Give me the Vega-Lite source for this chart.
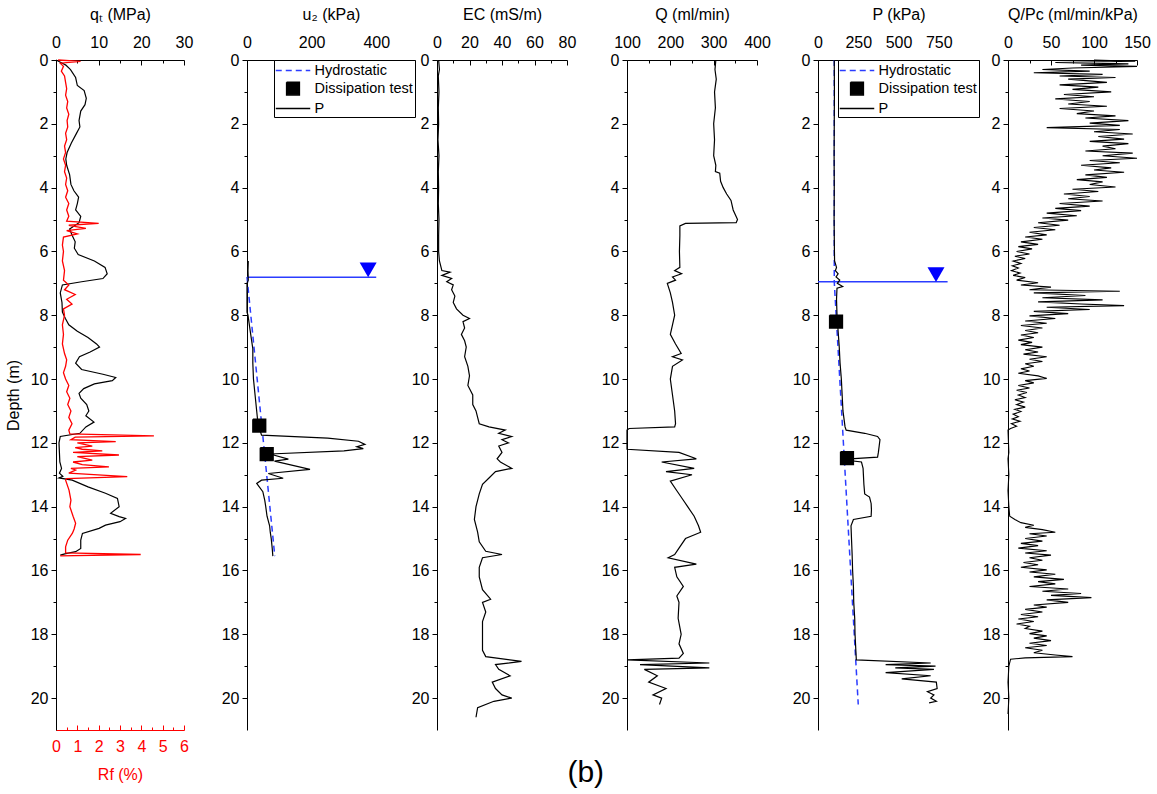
{
  "$schema": "https://vega.github.io/schema/vega-lite/v6.json",
  "padding": {"left": 5, "top": 6, "right": 5, "bottom": 5},
  "config": {
    "font": "Liberation Sans",
    "view": {"stroke": null},
    "axis": {"labelFontSize": 16, "titleFontSize": 16, "titleFontWeight": "normal", "labelColor": "black", "titleColor": "black", "domainColor": "black", "tickColor": "black", "grid": false, "labelOverlap": false, "labelFlush": false, "domainWidth": 1, "tickWidth": 1},
    "legend": {"title": null, "orient": "top-right", "offset": 0, "strokeColor": "black", "fillColor": "white", "padding": 2, "symbolSize": 225, "symbolOffset": 8.5, "labelOffset": 13, "labelFontSize": 14.5, "rowPadding": 2, "symbolStrokeWidth": 1.5, "labelColor": "black"}
  },
  "title": {"text": "(b)", "orient": "bottom", "anchor": "middle", "fontSize": 30, "fontWeight": "normal", "offset": -24, "dx": 8, "color": "black"},
  "datasets": {
    "qt": [{"depth":0,"value":0},{"depth":0.1,"value":1.5},{"depth":0.16,"value":2.3},{"depth":0.3,"value":3.4},{"depth":0.55,"value":4.6},{"depth":0.8,"value":5.0},{"depth":0.96,"value":6.6},{"depth":1.2,"value":7.1},{"depth":1.4,"value":6.8},{"depth":1.6,"value":5.8},{"depth":1.9,"value":5.4},{"depth":2.1,"value":5.6},{"depth":2.3,"value":4.8},{"depth":2.6,"value":3.6},{"depth":2.9,"value":2.6},{"depth":3.1,"value":2.3},{"depth":3.3,"value":2.5},{"depth":3.6,"value":3.2},{"depth":3.9,"value":3.5},{"depth":4.1,"value":4.2},{"depth":4.3,"value":5.3},{"depth":4.5,"value":5.0},{"depth":4.7,"value":4.6},{"depth":4.9,"value":5.8},{"depth":5.1,"value":5.4},{"depth":5.3,"value":3.2},{"depth":5.5,"value":3.8},{"depth":5.7,"value":4.5},{"depth":5.9,"value":4.3},{"depth":6.1,"value":5.2},{"depth":6.3,"value":9.0},{"depth":6.5,"value":11.5},{"depth":6.7,"value":12.0},{"depth":6.85,"value":11.0},{"depth":6.95,"value":6.0},{"depth":7.05,"value":1.5},{"depth":7.3,"value":1.0},{"depth":7.6,"value":1.4},{"depth":7.9,"value":1.5},{"depth":8.1,"value":2.2},{"depth":8.3,"value":3.0},{"depth":8.5,"value":5.0},{"depth":8.7,"value":7.5},{"depth":8.9,"value":9.5},{"depth":9.0,"value":10.2},{"depth":9.15,"value":8.0},{"depth":9.3,"value":5.5},{"depth":9.5,"value":4.6},{"depth":9.7,"value":6.0},{"depth":9.85,"value":11.0},{"depth":9.95,"value":14.0},{"depth":10.05,"value":13.2},{"depth":10.15,"value":9.0},{"depth":10.3,"value":6.5},{"depth":10.45,"value":5.4},{"depth":10.6,"value":5.8},{"depth":10.8,"value":7.2},{"depth":11.0,"value":7.7},{"depth":11.15,"value":7.0},{"depth":11.35,"value":8.9},{"depth":11.5,"value":7.0},{"depth":11.7,"value":5.6},{"depth":11.8,"value":1.0},{"depth":12.0,"value":0.7},{"depth":12.3,"value":0.8},{"depth":12.6,"value":0.9},{"depth":12.8,"value":1.3},{"depth":12.95,"value":0.8},{"depth":13.05,"value":1.6},{"depth":13.1,"value":0.7},{"depth":13.17,"value":3.8},{"depth":13.38,"value":7.5},{"depth":13.58,"value":11.6},{"depth":13.74,"value":14.4},{"depth":14.0,"value":14.8},{"depth":14.21,"value":12.8},{"depth":14.31,"value":14.8},{"depth":14.37,"value":16.3},{"depth":14.47,"value":15.0},{"depth":14.58,"value":11.6},{"depth":14.68,"value":10.1},{"depth":14.84,"value":6.2},{"depth":15.05,"value":5.8},{"depth":15.31,"value":5.8},{"depth":15.41,"value":4.6},{"depth":15.47,"value":2.3},{"depth":15.52,"value":1.0}],
    "rf": [{"depth":0,"value":0.1},{"depth":0.04,"value":1.15},{"depth":0.1,"value":0.2},{"depth":0.2,"value":0.35},{"depth":0.35,"value":0.25},{"depth":0.5,"value":0.4},{"depth":0.7,"value":0.45},{"depth":0.9,"value":0.5},{"depth":1.1,"value":0.45},{"depth":1.3,"value":0.55},{"depth":1.5,"value":0.5},{"depth":1.7,"value":0.6},{"depth":1.9,"value":0.52},{"depth":2.1,"value":0.55},{"depth":2.3,"value":0.45},{"depth":2.5,"value":0.5},{"depth":2.7,"value":0.4},{"depth":2.9,"value":0.45},{"depth":3.1,"value":0.35},{"depth":3.3,"value":0.45},{"depth":3.5,"value":0.4},{"depth":3.7,"value":0.5},{"depth":3.9,"value":0.45},{"depth":4.1,"value":0.55},{"depth":4.3,"value":0.45},{"depth":4.5,"value":0.6},{"depth":4.7,"value":0.5},{"depth":4.9,"value":0.6},{"depth":5.05,"value":0.5},{"depth":5.12,"value":2.0},{"depth":5.18,"value":0.6},{"depth":5.28,"value":1.4},{"depth":5.35,"value":0.5},{"depth":5.45,"value":1.0},{"depth":5.55,"value":0.35},{"depth":5.8,"value":0.3},{"depth":6.0,"value":0.35},{"depth":6.3,"value":0.3},{"depth":6.6,"value":0.4},{"depth":6.9,"value":0.35},{"depth":7.05,"value":0.6},{"depth":7.2,"value":0.4},{"depth":7.35,"value":0.9},{"depth":7.5,"value":0.5},{"depth":7.65,"value":0.75},{"depth":7.8,"value":0.35},{"depth":8.0,"value":0.4},{"depth":8.3,"value":0.3},{"depth":8.6,"value":0.35},{"depth":8.9,"value":0.3},{"depth":9.2,"value":0.4},{"depth":9.4,"value":0.5},{"depth":9.6,"value":0.45},{"depth":9.8,"value":0.35},{"depth":10.0,"value":0.45},{"depth":10.2,"value":0.6},{"depth":10.4,"value":0.5},{"depth":10.6,"value":0.65},{"depth":10.8,"value":0.55},{"depth":11.0,"value":0.7},{"depth":11.2,"value":0.6},{"depth":11.4,"value":0.75},{"depth":11.6,"value":0.6},{"depth":11.72,"value":0.65},{"depth":11.78,"value":4.59},{"depth":11.82,"value":0.9},{"depth":11.9,"value":0.7},{"depth":11.96,"value":2.8},{"depth":12.0,"value":1.0},{"depth":12.1,"value":1.7},{"depth":12.15,"value":0.9},{"depth":12.2,"value":1.23},{"depth":12.25,"value":2.17},{"depth":12.3,"value":0.8},{"depth":12.38,"value":2.95},{"depth":12.43,"value":1.0},{"depth":12.54,"value":1.7},{"depth":12.6,"value":0.8},{"depth":12.68,"value":1.23},{"depth":12.75,"value":2.48},{"depth":12.8,"value":0.7},{"depth":12.85,"value":0.92},{"depth":12.95,"value":0.6},{"depth":13.06,"value":3.34},{"depth":13.12,"value":0.5},{"depth":13.17,"value":0.45},{"depth":13.48,"value":0.61},{"depth":13.8,"value":0.7},{"depth":14.0,"value":0.65},{"depth":14.3,"value":0.8},{"depth":14.52,"value":0.92},{"depth":14.7,"value":0.85},{"depth":14.83,"value":0.77},{"depth":15.05,"value":0.55},{"depth":15.26,"value":0.45},{"depth":15.45,"value":0.45},{"depth":15.5,"value":3.97},{"depth":15.54,"value":0.2}],
    "u2": [{"depth":6.3,"value":4},{"depth":6.6,"value":3},{"depth":6.9,"value":4},{"depth":7.0,"value":0},{"depth":7.9,"value":0},{"depth":8.0,"value":3},{"depth":8.5,"value":10},{"depth":9.05,"value":18},{"depth":9.5,"value":18},{"depth":10.0,"value":20},{"depth":10.5,"value":25},{"depth":11.0,"value":30},{"depth":11.4,"value":34},{"depth":11.76,"value":45},{"depth":11.85,"value":250},{"depth":11.95,"value":345},{"depth":12.05,"value":365},{"depth":12.12,"value":340},{"depth":12.18,"value":360},{"depth":12.25,"value":300},{"depth":12.35,"value":71},{"depth":12.51,"value":128},{"depth":12.57,"value":85},{"depth":12.83,"value":195},{"depth":12.96,"value":66},{"depth":13.11,"value":112},{"depth":13.17,"value":45},{"depth":13.27,"value":30},{"depth":13.53,"value":49},{"depth":13.8,"value":55},{"depth":14.0,"value":58},{"depth":14.3,"value":62},{"depth":14.6,"value":70},{"depth":14.8,"value":72},{"depth":15.0,"value":75},{"depth":15.3,"value":78},{"depth":15.55,"value":80}],
    "u2hyd": [{"depth":6.8,"value":0},{"depth":15.55,"value":86}],
    "u2wt": [{"depth":6.81,"value":0,"value2":400}],
    "u2tri": [{"depth":6.58,"value":375}],
    "u2diss": [{"depth":11.46,"value":38,"series":"Dissipation test"},{"depth":12.35,"value":61,"series":"Dissipation test"}],
    "ec": [{"depth":0,"value":1},{"depth":0.3,"value":1.5},{"depth":0.5,"value":0.8},{"depth":1,"value":1.2},{"depth":1.5,"value":0.8},{"depth":2,"value":1.0},{"depth":2.5,"value":0.6},{"depth":3,"value":1.2},{"depth":3.5,"value":0.8},{"depth":4,"value":1.0},{"depth":4.5,"value":0.8},{"depth":5,"value":1.2},{"depth":5.5,"value":1.0},{"depth":6,"value":1.0},{"depth":6.3,"value":1.5},{"depth":6.6,"value":3},{"depth":6.65,"value":8},{"depth":6.75,"value":3},{"depth":6.85,"value":9},{"depth":6.95,"value":6},{"depth":7.05,"value":10},{"depth":7.2,"value":9},{"depth":7.4,"value":11},{"depth":7.6,"value":10},{"depth":7.8,"value":12},{"depth":8.0,"value":16},{"depth":8.1,"value":20},{"depth":8.2,"value":16},{"depth":8.4,"value":17},{"depth":8.6,"value":15},{"depth":8.8,"value":17},{"depth":9.0,"value":18},{"depth":9.3,"value":17},{"depth":9.6,"value":19},{"depth":9.9,"value":20},{"depth":10.2,"value":19},{"depth":10.5,"value":22},{"depth":10.8,"value":22},{"depth":11.0,"value":24},{"depth":11.2,"value":25},{"depth":11.4,"value":26},{"depth":11.5,"value":32},{"depth":11.6,"value":42},{"depth":11.7,"value":38},{"depth":11.8,"value":46},{"depth":11.9,"value":40},{"depth":12.0,"value":44},{"depth":12.1,"value":38},{"depth":12.3,"value":40},{"depth":12.5,"value":37},{"depth":12.6,"value":39},{"depth":12.8,"value":46},{"depth":12.9,"value":36},{"depth":13.1,"value":32},{"depth":13.3,"value":28},{"depth":13.6,"value":26},{"depth":14.0,"value":24},{"depth":14.4,"value":23},{"depth":14.8,"value":25},{"depth":15.1,"value":26},{"depth":15.4,"value":30},{"depth":15.5,"value":40},{"depth":15.6,"value":28},{"depth":15.9,"value":26},{"depth":16.2,"value":26},{"depth":16.6,"value":28},{"depth":16.9,"value":33},{"depth":17.0,"value":28},{"depth":17.3,"value":30},{"depth":17.6,"value":28},{"depth":18.0,"value":28},{"depth":18.5,"value":28},{"depth":18.7,"value":30},{"depth":18.85,"value":52},{"depth":18.95,"value":36},{"depth":19.1,"value":38},{"depth":19.3,"value":45},{"depth":19.5,"value":34},{"depth":19.7,"value":36},{"depth":19.9,"value":40},{"depth":20.0,"value":46},{"depth":20.1,"value":35},{"depth":20.3,"value":25},{"depth":20.6,"value":24}],
    "q": [{"depth":0,"value":305},{"depth":0.3,"value":303},{"depth":0.6,"value":306},{"depth":1,"value":302},{"depth":1.5,"value":304},{"depth":2,"value":300},{"depth":2.5,"value":302},{"depth":3,"value":300},{"depth":3.3,"value":305},{"depth":3.5,"value":304},{"depth":3.55,"value":314},{"depth":3.8,"value":316},{"depth":4.0,"value":322},{"depth":4.2,"value":330},{"depth":4.4,"value":340},{"depth":4.7,"value":345},{"depth":5.0,"value":355},{"depth":5.1,"value":352},{"depth":5.12,"value":235},{"depth":5.2,"value":222},{"depth":5.5,"value":222},{"depth":6.0,"value":221},{"depth":6.5,"value":222},{"depth":6.6,"value":210},{"depth":6.7,"value":226},{"depth":6.8,"value":205},{"depth":6.9,"value":212},{"depth":7.0,"value":193},{"depth":7.3,"value":200},{"depth":7.6,"value":205},{"depth":8.0,"value":210},{"depth":8.3,"value":205},{"depth":8.6,"value":200},{"depth":8.9,"value":212},{"depth":9.2,"value":225},{"depth":9.3,"value":205},{"depth":9.4,"value":228},{"depth":9.6,"value":205},{"depth":10.0,"value":200},{"depth":10.5,"value":205},{"depth":11.0,"value":210},{"depth":11.4,"value":212},{"depth":11.5,"value":210},{"depth":11.55,"value":105},{"depth":11.6,"value":100},{"depth":12.2,"value":100},{"depth":12.3,"value":220},{"depth":12.5,"value":260},{"depth":12.6,"value":180},{"depth":12.8,"value":255},{"depth":12.9,"value":190},{"depth":13.0,"value":250},{"depth":13.2,"value":200},{"depth":13.5,"value":215},{"depth":13.8,"value":230},{"depth":14.0,"value":240},{"depth":14.3,"value":255},{"depth":14.6,"value":265},{"depth":14.8,"value":270},{"depth":15.0,"value":235},{"depth":15.3,"value":220},{"depth":15.5,"value":210},{"depth":15.6,"value":195},{"depth":15.8,"value":260},{"depth":15.9,"value":210},{"depth":16.2,"value":215},{"depth":16.5,"value":230},{"depth":16.8,"value":215},{"depth":17.0,"value":220},{"depth":17.5,"value":218},{"depth":18.0,"value":225},{"depth":18.3,"value":220},{"depth":18.6,"value":230},{"depth":18.75,"value":220},{"depth":18.8,"value":100},{"depth":18.9,"value":290},{"depth":18.95,"value":130},{"depth":19.05,"value":290},{"depth":19.1,"value":140},{"depth":19.3,"value":170},{"depth":19.5,"value":150},{"depth":19.7,"value":190},{"depth":19.9,"value":160},{"depth":20.0,"value":180},{"depth":20.2,"value":175}],
    "p": [{"depth":0,"value":101},{"depth":1,"value":102},{"depth":2,"value":101},{"depth":3,"value":100},{"depth":4,"value":101},{"depth":5,"value":100},{"depth":6,"value":102},{"depth":6.3,"value":103},{"depth":6.5,"value":115},{"depth":6.6,"value":108},{"depth":6.7,"value":125},{"depth":6.8,"value":112},{"depth":6.9,"value":135},{"depth":7.0,"value":120},{"depth":7.1,"value":153},{"depth":7.15,"value":118},{"depth":7.5,"value":115},{"depth":8.0,"value":118},{"depth":8.5,"value":125},{"depth":9.0,"value":132},{"depth":9.5,"value":137},{"depth":10.0,"value":145},{"depth":10.5,"value":150},{"depth":11.0,"value":155},{"depth":11.5,"value":168},{"depth":11.6,"value":175},{"depth":11.7,"value":290},{"depth":11.8,"value":370},{"depth":11.9,"value":385},{"depth":12.1,"value":380},{"depth":12.3,"value":375},{"depth":12.45,"value":370},{"depth":12.5,"value":200},{"depth":12.55,"value":185},{"depth":12.6,"value":270},{"depth":12.8,"value":280},{"depth":13.0,"value":282},{"depth":13.3,"value":285},{"depth":13.6,"value":290},{"depth":13.7,"value":320},{"depth":13.9,"value":330},{"depth":14.1,"value":332},{"depth":14.3,"value":330},{"depth":14.4,"value":220},{"depth":14.6,"value":205},{"depth":15.0,"value":208},{"depth":15.5,"value":212},{"depth":16.0,"value":215},{"depth":16.5,"value":220},{"depth":17.0,"value":222},{"depth":17.5,"value":228},{"depth":18.0,"value":230},{"depth":18.5,"value":235},{"depth":18.8,"value":238},{"depth":18.9,"value":700},{"depth":18.95,"value":420},{"depth":19.0,"value":730},{"depth":19.05,"value":480},{"depth":19.1,"value":720},{"depth":19.2,"value":420},{"depth":19.3,"value":700},{"depth":19.4,"value":520},{"depth":19.5,"value":735},{"depth":19.7,"value":740},{"depth":19.8,"value":680},{"depth":19.9,"value":720},{"depth":20.0,"value":700},{"depth":20.1,"value":735},{"depth":20.15,"value":690}],
    "phyd": [{"depth":0,"value":101},{"depth":6.95,"value":101},{"depth":20.2,"value":250}],
    "pwt": [{"depth":6.95,"value":0,"value2":805}],
    "ptri": [{"depth":6.73,"value":733}],
    "pdiss": [{"depth":8.2,"value":112,"series":"Dissipation test"},{"depth":12.48,"value":180,"series":"Dissipation test"}],
    "qpc": [{"depth":0.0,"value":100},{"depth":0.04,"value":148},{"depth":0.08,"value":55},{"depth":0.12,"value":140},{"depth":0.16,"value":85},{"depth":0.2,"value":150},{"depth":0.25,"value":75},{"depth":0.3,"value":40},{"depth":0.35,"value":95},{"depth":0.4,"value":30},{"depth":0.45,"value":110},{"depth":0.5,"value":60},{"depth":0.55,"value":125},{"depth":0.6,"value":70},{"depth":0.7,"value":115},{"depth":0.78,"value":60},{"depth":0.85,"value":105},{"depth":0.92,"value":75},{"depth":1.0,"value":120},{"depth":1.08,"value":65},{"depth":1.15,"value":100},{"depth":1.22,"value":55},{"depth":1.3,"value":95},{"depth":1.38,"value":70},{"depth":1.45,"value":115},{"depth":1.52,"value":60},{"depth":1.6,"value":100},{"depth":1.68,"value":80},{"depth":1.75,"value":125},{"depth":1.82,"value":90},{"depth":1.9,"value":140},{"depth":1.98,"value":95},{"depth":2.05,"value":130},{"depth":2.12,"value":45},{"depth":2.18,"value":130},{"depth":2.25,"value":100},{"depth":2.32,"value":145},{"depth":2.4,"value":105},{"depth":2.48,"value":135},{"depth":2.55,"value":95},{"depth":2.62,"value":140},{"depth":2.7,"value":110},{"depth":2.78,"value":125},{"depth":2.85,"value":90},{"depth":2.92,"value":145},{"depth":3.0,"value":110},{"depth":3.08,"value":150},{"depth":3.15,"value":95},{"depth":3.22,"value":130},{"depth":3.3,"value":85},{"depth":3.38,"value":120},{"depth":3.45,"value":100},{"depth":3.52,"value":135},{"depth":3.6,"value":90},{"depth":3.68,"value":115},{"depth":3.75,"value":80},{"depth":3.82,"value":110},{"depth":3.9,"value":95},{"depth":3.98,"value":125},{"depth":4.05,"value":75},{"depth":4.12,"value":105},{"depth":4.2,"value":65},{"depth":4.28,"value":95},{"depth":4.35,"value":70},{"depth":4.42,"value":110},{"depth":4.5,"value":60},{"depth":4.58,"value":95},{"depth":4.65,"value":55},{"depth":4.72,"value":85},{"depth":4.8,"value":45},{"depth":4.88,"value":80},{"depth":4.95,"value":40},{"depth":5.02,"value":70},{"depth":5.1,"value":35},{"depth":5.18,"value":60},{"depth":5.25,"value":30},{"depth":5.32,"value":55},{"depth":5.4,"value":25},{"depth":5.48,"value":45},{"depth":5.55,"value":20},{"depth":5.62,"value":40},{"depth":5.7,"value":15},{"depth":5.78,"value":35},{"depth":5.85,"value":12},{"depth":5.92,"value":28},{"depth":6.0,"value":10},{"depth":6.08,"value":25},{"depth":6.15,"value":8},{"depth":6.22,"value":20},{"depth":6.3,"value":6},{"depth":6.38,"value":15},{"depth":6.45,"value":5},{"depth":6.52,"value":12},{"depth":6.6,"value":4},{"depth":6.68,"value":14},{"depth":6.75,"value":6},{"depth":6.82,"value":20},{"depth":6.9,"value":10},{"depth":6.98,"value":35},{"depth":7.05,"value":15},{"depth":7.12,"value":50},{"depth":7.2,"value":25},{"depth":7.25,"value":130},{"depth":7.3,"value":30},{"depth":7.38,"value":90},{"depth":7.45,"value":40},{"depth":7.52,"value":110},{"depth":7.58,"value":35},{"depth":7.65,"value":85},{"depth":7.7,"value":135},{"depth":7.75,"value":45},{"depth":7.82,"value":95},{"depth":7.88,"value":30},{"depth":7.95,"value":70},{"depth":8.02,"value":25},{"depth":8.1,"value":55},{"depth":8.18,"value":20},{"depth":8.25,"value":45},{"depth":8.32,"value":15},{"depth":8.4,"value":40},{"depth":8.48,"value":20},{"depth":8.55,"value":35},{"depth":8.62,"value":15},{"depth":8.7,"value":30},{"depth":8.78,"value":12},{"depth":8.85,"value":28},{"depth":8.92,"value":15},{"depth":9.0,"value":40},{"depth":9.08,"value":20},{"depth":9.15,"value":35},{"depth":9.22,"value":18},{"depth":9.3,"value":45},{"depth":9.38,"value":25},{"depth":9.45,"value":40},{"depth":9.52,"value":20},{"depth":9.6,"value":30},{"depth":9.68,"value":15},{"depth":9.75,"value":25},{"depth":9.82,"value":12},{"depth":9.9,"value":35},{"depth":9.98,"value":45},{"depth":10.05,"value":20},{"depth":10.12,"value":30},{"depth":10.2,"value":12},{"depth":10.28,"value":25},{"depth":10.35,"value":10},{"depth":10.42,"value":22},{"depth":10.5,"value":12},{"depth":10.58,"value":20},{"depth":10.65,"value":8},{"depth":10.72,"value":18},{"depth":10.8,"value":10},{"depth":10.88,"value":20},{"depth":10.95,"value":8},{"depth":11.02,"value":15},{"depth":11.1,"value":6},{"depth":11.18,"value":12},{"depth":11.25,"value":5},{"depth":11.32,"value":14},{"depth":11.4,"value":4},{"depth":11.48,"value":10},{"depth":11.55,"value":3},{"depth":11.6,"value":0},{"depth":12.3,"value":1},{"depth":12.5,"value":0},{"depth":13.0,"value":1},{"depth":13.5,"value":0},{"depth":14.0,"value":1},{"depth":14.3,"value":2},{"depth":14.4,"value":8},{"depth":14.5,"value":15},{"depth":14.58,"value":30},{"depth":14.65,"value":20},{"depth":14.72,"value":40},{"depth":14.8,"value":55},{"depth":14.85,"value":25},{"depth":14.92,"value":45},{"depth":15.0,"value":20},{"depth":15.08,"value":40},{"depth":15.15,"value":15},{"depth":15.22,"value":35},{"depth":15.3,"value":12},{"depth":15.38,"value":45},{"depth":15.45,"value":20},{"depth":15.52,"value":50},{"depth":15.6,"value":25},{"depth":15.68,"value":40},{"depth":15.75,"value":18},{"depth":15.82,"value":35},{"depth":15.9,"value":15},{"depth":15.98,"value":45},{"depth":16.05,"value":25},{"depth":16.12,"value":55},{"depth":16.2,"value":30},{"depth":16.28,"value":65},{"depth":16.35,"value":35},{"depth":16.42,"value":55},{"depth":16.5,"value":25},{"depth":16.58,"value":70},{"depth":16.65,"value":40},{"depth":16.72,"value":85},{"depth":16.78,"value":50},{"depth":16.85,"value":97},{"depth":16.92,"value":45},{"depth":17.0,"value":70},{"depth":17.08,"value":30},{"depth":17.15,"value":45},{"depth":17.22,"value":20},{"depth":17.3,"value":40},{"depth":17.38,"value":15},{"depth":17.45,"value":35},{"depth":17.52,"value":12},{"depth":17.6,"value":30},{"depth":17.68,"value":10},{"depth":17.75,"value":25},{"depth":17.82,"value":20},{"depth":17.9,"value":40},{"depth":17.98,"value":25},{"depth":18.05,"value":45},{"depth":18.12,"value":30},{"depth":18.2,"value":50},{"depth":18.28,"value":25},{"depth":18.35,"value":45},{"depth":18.42,"value":20},{"depth":18.5,"value":40},{"depth":18.58,"value":30},{"depth":18.65,"value":55},{"depth":18.7,"value":75},{"depth":18.74,"value":20},{"depth":18.78,"value":3},{"depth":19.0,"value":1},{"depth":19.5,"value":0},{"depth":20.0,"value":1},{"depth":20.5,"value":0}]
  },
  "spacing": 21,
  "resolve": {"scale": {"color": "independent", "shape": "independent", "strokeDash": "independent"}, "legend": {"color": "independent", "shape": "independent", "strokeDash": "independent"}},
  "hconcat": [
    {
      "width": 128, "height": 670,
      "encoding": {
        "y": {"field": "depth", "type": "quantitative", "scale": {"domain": [0, 21], "reverse": true, "nice": false, "zero": false},
          "axis": {"title": "Depth (m)", "titlePadding": 9, "values": [0,1,2,3,4,5,6,7,8,9,10,11,12,13,14,15,16,17,18,19,20], "labelExpr": "datum.value % 2 === 0 ? datum.label : ''", "tickSize": {"condition": {"test": "datum.value % 2 === 0", "value": 5}, "value": 3}, "labelPadding": 3}}
      },
      "layer": [
        {"data": {"name": "qt"}, "mark": {"type": "line", "color": "black", "strokeWidth": 1.2},
          "encoding": {"x": {"field": "value", "type": "quantitative", "scale": {"domain": [0, 30], "nice": false},
            "axis": {"orient": "top", "title": "qₜ (MPa)", "titlePadding": 10, "values": [0,5,10,15,20,25,30], "labelExpr": "datum.value % 10 === 0 ? datum.label : ''", "tickSize": {"condition": {"test": "datum.value % 10 === 0", "value": -5}, "value": -3}, "labelPadding": 15}},
            "order": {"value": null}}},
        {"data": {"name": "rf"}, "mark": {"type": "line", "color": "#ff0000", "strokeWidth": 1.3},
          "encoding": {"x": {"field": "value", "type": "quantitative", "scale": {"domain": [0, 6], "nice": false},
            "axis": {"orient": "bottom", "title": "Rf (%)", "titlePadding": 10, "values": [0,0.5,1,1.5,2,2.5,3,3.5,4,4.5,5,5.5,6], "labelExpr": "datum.value % 1 === 0 ? format(datum.value, 'd') : ''", "tickSize": {"condition": {"test": "datum.value % 1 === 0", "value": -5}, "value": -3}, "labelPadding": 13, "labelColor": "#ff0000", "titleColor": "#ff0000", "domainColor": "#ff0000", "tickColor": "#ff0000"}},
            "order": {"value": null}}}
      ],
      "resolve": {"scale": {"x": "independent"}, "axis": {"x": "independent"}}
    },
    {
      "bounds": "flush",
      "spacing": 22,
      "resolve": {"scale": {"color": "independent", "shape": "independent", "strokeDash": "independent"}, "legend": {"color": "independent", "shape": "independent", "strokeDash": "independent"}},
      "hconcat": [
        {
          "width": 168, "height": 670,
          "encoding": {
            "y": {"field": "depth", "type": "quantitative", "scale": {"domain": [0, 21], "reverse": true, "nice": false, "zero": false},
              "axis": {"title": null, "minExtent": 33, "values": [0,1,2,3,4,5,6,7,8,9,10,11,12,13,14,15,16,17,18,19,20], "labelExpr": "datum.value % 2 === 0 ? datum.label : ''", "tickSize": {"condition": {"test": "datum.value % 2 === 0", "value": 5}, "value": 3}, "labelPadding": 3}},
            "x": {"field": "value", "type": "quantitative", "scale": {"domain": [0, 520], "nice": false},
              "axis": {"orient": "top", "title": "u₂ (kPa)", "titlePadding": 10, "values": [0,100,200,300,400], "labelExpr": "datum.value % 200 === 0 ? datum.label : ''", "tickSize": {"condition": {"test": "datum.value % 200 === 0", "value": -5}, "value": -3}, "labelPadding": 15}}
          },
          "layer": [
            {"data": {"name": "u2hyd"}, "mark": {"type": "line", "color": "#2b3cff", "strokeWidth": 1.5, "strokeDash": [6, 4]}, "encoding": {"order": {"value": null}}},
            {"data": {"name": "u2wt"}, "mark": {"type": "rule", "color": "#2b3cff", "strokeWidth": 1.5}, "encoding": {"x2": {"field": "value2"}}},
            {"data": {"name": "u2tri"}, "mark": {"type": "point", "shape": "triangle-down", "filled": true, "color": "#0000ff", "size": 289, "opacity": 1}, "encoding": {}},
            {"data": {"name": "u2"}, "mark": {"type": "line", "color": "black", "strokeWidth": 1.2}, "encoding": {"order": {"value": null}}},
            {"data": {"name": "u2diss"}, "mark": {"type": "point", "filled": false, "fill": "black", "fillOpacity": 1, "opacity": 1, "size": 225, "strokeWidth": 1.5},
              "encoding": {
                "shape": {"field": "series", "type": "nominal", "scale": {"domain": ["Hydrostatic", "Dissipation test", "P"], "range": ["M-2.3,0H2.3", "M-0.85,-0.85H0.85V0.85H-0.85Z", "M-2.3,0H2.3"]}},
                "color": {"field": "series", "type": "nominal", "scale": {"domain": ["Hydrostatic", "Dissipation test", "P"], "range": ["#2b3cff", "black", "black"]},
                  "legend": {"encode": {"symbols": {"update": {"fill": {"signal": "datum.value === 'Dissipation test' ? 'black' : 'transparent'"}}}}}},
                "strokeDash": {"field": "series", "type": "nominal", "scale": {"domain": ["Hydrostatic", "Dissipation test", "P"], "range": [[6, 4], [1, 0], [1, 0]]}}
              }}
          ]
        },
        {
          "width": 130, "height": 670,
          "data": {"name": "ec"},
          "mark": {"type": "line", "color": "black", "strokeWidth": 1.2},
          "encoding": {
            "y": {"field": "depth", "type": "quantitative", "scale": {"domain": [0, 21], "reverse": true, "nice": false, "zero": false},
              "axis": {"title": null, "values": [0,1,2,3,4,5,6,7,8,9,10,11,12,13,14,15,16,17,18,19,20], "labelExpr": "datum.value % 2 === 0 ? datum.label : ''", "tickSize": {"condition": {"test": "datum.value % 2 === 0", "value": 5}, "value": 3}, "labelPadding": 3}},
            "x": {"field": "value", "type": "quantitative", "scale": {"domain": [0, 80], "nice": false},
              "axis": {"orient": "top", "title": "EC (mS/m)", "titlePadding": 10, "values": [0,10,20,30,40,50,60,70,80], "labelExpr": "datum.value % 20 === 0 ? datum.label : ''", "tickSize": {"condition": {"test": "datum.value % 20 === 0", "value": -5}, "value": -3}, "labelPadding": 15}},
            "order": {"value": null}
          }
        }
      ]
    },
    {
      "width": 130, "height": 670,
      "data": {"name": "q"},
      "mark": {"type": "line", "color": "black", "strokeWidth": 1.2},
      "encoding": {
        "y": {"field": "depth", "type": "quantitative", "scale": {"domain": [0, 21], "reverse": true, "nice": false, "zero": false},
          "axis": {"title": null, "minExtent": 30, "values": [0,1,2,3,4,5,6,7,8,9,10,11,12,13,14,15,16,17,18,19,20], "labelExpr": "datum.value % 2 === 0 ? datum.label : ''", "tickSize": {"condition": {"test": "datum.value % 2 === 0", "value": 5}, "value": 3}, "labelPadding": 3}},
        "x": {"field": "value", "type": "quantitative", "scale": {"domain": [100, 400], "nice": false, "zero": false},
          "axis": {"orient": "top", "title": "Q (ml/min)", "titlePadding": 10, "values": [100,150,200,250,300,350,400], "labelExpr": "datum.value % 100 === 0 ? datum.label : ''", "tickSize": {"condition": {"test": "datum.value % 100 === 0", "value": -5}, "value": -3}, "labelPadding": 15}},
        "order": {"value": null}
      }
    },
    {
      "bounds": "flush",
      "spacing": 29,
      "resolve": {"scale": {"color": "independent", "shape": "independent", "strokeDash": "independent"}, "legend": {"color": "independent", "shape": "independent", "strokeDash": "independent"}},
      "hconcat": [
        {
          "width": 161, "height": 670,
          "encoding": {
            "y": {"field": "depth", "type": "quantitative", "scale": {"domain": [0, 21], "reverse": true, "nice": false, "zero": false},
              "axis": {"title": null, "values": [0,1,2,3,4,5,6,7,8,9,10,11,12,13,14,15,16,17,18,19,20], "labelExpr": "datum.value % 2 === 0 ? datum.label : ''", "tickSize": {"condition": {"test": "datum.value % 2 === 0", "value": 5}, "value": 3}, "labelPadding": 3}},
            "x": {"field": "value", "type": "quantitative", "scale": {"domain": [0, 1000], "nice": false},
              "axis": {"orient": "top", "title": "P (kPa)", "titlePadding": 10, "values": [0,125,250,375,500,625,750,875], "labelExpr": "datum.value % 250 === 0 ? datum.label : ''", "tickSize": {"condition": {"test": "datum.value % 250 === 0", "value": -5}, "value": -3}, "labelPadding": 15}}
          },
          "layer": [
            {"data": {"name": "phyd"}, "mark": {"type": "line", "color": "#2b3cff", "strokeWidth": 1.5, "strokeDash": [6, 4]}, "encoding": {"order": {"value": null}}},
            {"data": {"name": "pwt"}, "mark": {"type": "rule", "color": "#2b3cff", "strokeWidth": 1.5}, "encoding": {"x2": {"field": "value2"}}},
            {"data": {"name": "ptri"}, "mark": {"type": "point", "shape": "triangle-down", "filled": true, "color": "#0000ff", "size": 289, "opacity": 1}, "encoding": {}},
            {"data": {"name": "p"}, "mark": {"type": "line", "color": "black", "strokeWidth": 1.2}, "encoding": {"order": {"value": null}}},
            {"data": {"name": "pdiss"}, "mark": {"type": "point", "filled": false, "fill": "black", "fillOpacity": 1, "opacity": 1, "size": 225, "strokeWidth": 1.5},
              "encoding": {
                "shape": {"field": "series", "type": "nominal", "scale": {"domain": ["Hydrostatic", "Dissipation test", "P"], "range": ["M-2.3,0H2.3", "M-0.85,-0.85H0.85V0.85H-0.85Z", "M-2.3,0H2.3"]}},
                "color": {"field": "series", "type": "nominal", "scale": {"domain": ["Hydrostatic", "Dissipation test", "P"], "range": ["#2b3cff", "black", "black"]},
                  "legend": {"encode": {"symbols": {"update": {"fill": {"signal": "datum.value === 'Dissipation test' ? 'black' : 'transparent'"}}}}}},
                "strokeDash": {"field": "series", "type": "nominal", "scale": {"domain": ["Hydrostatic", "Dissipation test", "P"], "range": [[6, 4], [1, 0], [1, 0]]}}
              }}
          ]
        },
        {
          "width": 129, "height": 670,
          "data": {"name": "qpc"},
          "mark": {"type": "line", "color": "black", "strokeWidth": 1.1},
          "encoding": {
            "y": {"field": "depth", "type": "quantitative", "scale": {"domain": [0, 21], "reverse": true, "nice": false, "zero": false},
              "axis": {"title": null, "values": [0,1,2,3,4,5,6,7,8,9,10,11,12,13,14,15,16,17,18,19,20], "labelExpr": "datum.value % 2 === 0 ? datum.label : ''", "tickSize": {"condition": {"test": "datum.value % 2 === 0", "value": 5}, "value": 3}, "labelPadding": 3}},
            "x": {"field": "value", "type": "quantitative", "scale": {"domain": [0, 150], "nice": false},
              "axis": {"orient": "top", "title": "Q/Pc (ml/min/kPa)", "titlePadding": 10, "values": [0,25,50,75,100,125,150], "labelExpr": "datum.value % 50 === 0 ? datum.label : ''", "tickSize": {"condition": {"test": "datum.value % 50 === 0", "value": -5}, "value": -3}, "labelPadding": 15}},
            "order": {"value": null}
          }
        }
      ]
    }
  ]
}
